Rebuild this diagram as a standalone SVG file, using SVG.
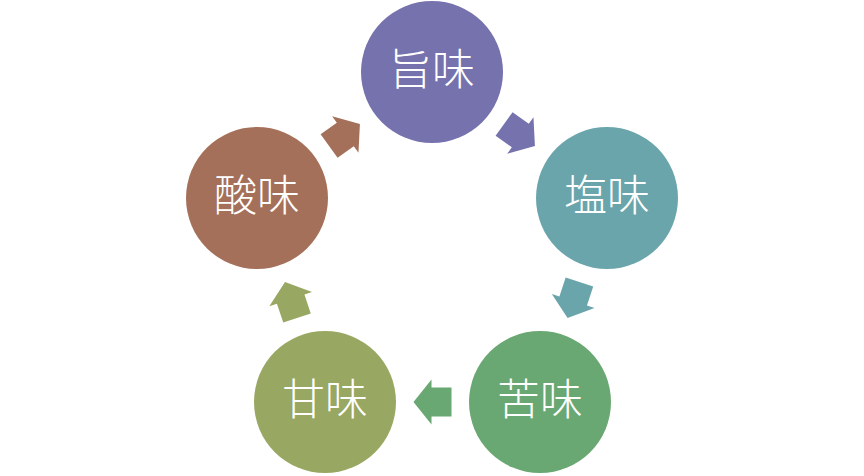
<svg xmlns="http://www.w3.org/2000/svg" width="864" height="476" viewBox="0 0 864 476">
<style>
.lbl{font-family:"Noto Sans CJK JP","Noto Sans CJK SC",sans-serif;font-size:43px;font-weight:300;fill:#ffffff;text-anchor:middle}
</style>
<defs>
<polygon id="arr" points="-19,-14.5 1,-14.5 1,-22.5 19,0 1,22.5 1,14.5 -19,14.5"/>
</defs>
<rect width="864" height="476" fill="#ffffff"/>
<g id="connectors">
<use href="#arr" fill="#7572AD" transform="translate(519.5,135) rotate(35.8)"/>
<use href="#arr" fill="#6AA5AC" transform="translate(573.5,300) rotate(108.2)"/>
<use href="#arr" fill="#69A872" transform="translate(432.5,402) rotate(180)"/>
<use href="#arr" fill="#98A762" transform="translate(291,300) rotate(-108.4)"/>
<use href="#arr" fill="#A5705A" transform="translate(344.5,135) rotate(-35.8)"/>
</g>
<g id="umami">
<circle cx="432" cy="72" r="71" fill="#7572AD"/>
<text class="lbl" x="432" y="85">旨味</text>
</g>
<g id="shio">
<circle cx="607" cy="198" r="71" fill="#6AA5AC"/>
<text class="lbl" x="607" y="211">塩味</text>
</g>
<g id="niga">
<circle cx="540" cy="402" r="71" fill="#69A872"/>
<text class="lbl" x="540" y="415">苦味</text>
</g>
<g id="ama">
<circle cx="325" cy="402" r="71" fill="#98A762"/>
<text class="lbl" x="325" y="415">甘味</text>
</g>
<g id="san">
<circle cx="257" cy="198" r="71" fill="#A5705A"/>
<text class="lbl" x="257" y="211">酸味</text>
</g>
</svg>
